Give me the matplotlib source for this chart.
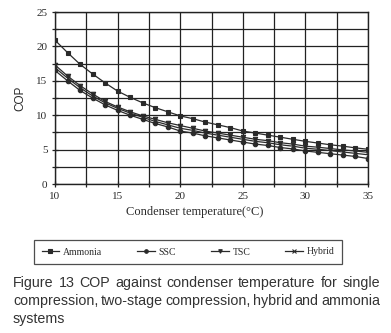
import matplotlib
matplotlib.use('Agg')
import matplotlib.pyplot as plt
import numpy as np

# Данные
temp = list(range(10, 36))
ammonia = [20.9, 19.1, 17.4, 16.0, 14.7, 13.5, 12.6, 11.8, 11.1, 10.5, 9.9, 9.5, 9.0,
           8.6, 8.2, 7.7, 7.4, 7.1, 6.8, 6.5, 6.2, 5.95, 5.7, 5.5, 5.25, 5.05]
ssc = [16.5, 15.0, 13.6, 12.5, 11.5, 10.7, 10.0, 9.4, 8.8, 8.3, 7.7, 7.4, 7.0,
       6.7, 6.4, 6.1, 5.8, 5.6, 5.3, 5.1, 4.8, 4.6, 4.4, 4.2, 4.0, 3.7]
tsc = [17.3, 15.7, 14.3, 13.1, 12.0, 11.2, 10.5, 9.9, 9.4, 8.9, 8.5, 8.1, 7.7,
       7.4, 7.1, 6.8, 6.5, 6.3, 6.0, 5.8, 5.5, 5.35, 5.15, 4.95, 4.8, 4.6]
hybrid = [16.9, 15.4, 14.0, 12.8, 11.8, 11.0, 10.3, 9.7, 9.1, 8.6, 8.1, 7.8, 7.4,
          7.1, 6.8, 6.5, 6.2, 6.0, 5.7, 5.5, 5.2, 5.05, 4.85, 4.65, 4.45, 4.25]
labels = ['Ammonia', 'SSC', 'TSC', 'Hybrid']
markers = ['s', 'o', 'v', 'x']

caption = ["Figure 13 COP against condenser temperature for single",
           "compression, two-stage compression, hybrid and ammonia",
           "systems"]

serif = 'Liberation Serif'
sans = 'Liberation Sans'
ink = '#2a2a2a'

fig = plt.figure(figsize=(3.91, 3.33), dpi=100)
ax = fig.add_axes([55 / 391, 1 - 184 / 333, 313 / 391, 172 / 333])

handles = []
for ys, lab, mk in zip([ammonia, ssc, tsc, hybrid], labels, markers):
    h, = ax.plot(temp, ys, color=ink, lw=0.9, marker=mk, ms=3.2,
                 mew=0.8, label=lab, zorder=3)
    handles.append(h)

ax.set_xlim(10, 35)
ax.set_ylim(0, 25)
ax.set_xticks(np.arange(10, 36, 5))
ax.set_yticks(np.arange(0, 26, 5))
ax.set_xticks(np.arange(10, 36, 2.5), minor=True)
ax.set_yticks(np.arange(0, 26, 2.5), minor=True)
ax.grid(True, which='both', color='#222222', lw=0.9)
for s in ax.spines.values():
    s.set_color('#222222')
    s.set_linewidth(1.0)
ax.tick_params(which='both', direction='inout', length=4, color='#222222', width=0.9)
ax.tick_params(axis='both', labelsize=8, labelcolor=ink)
ax.tick_params(axis='x', pad=4)
for t in ax.get_xticklabels() + ax.get_yticklabels():
    t.set_family(serif)

ax.set_xlabel('Condenser temperature(°C)', family=serif, fontsize=9, color=ink)
ax.xaxis.set_label_coords((195 - 55) / 313, -0.125)
ax.set_ylabel('COP', family=sans, fontsize=8.5, color=ink)
ax.yaxis.set_label_coords(-0.09, 0.5)

leg = fig.legend(handles=handles, loc='center', ncol=4,
                 bbox_to_anchor=(188 / 391, 1 - 252 / 333),
                 prop={'family': serif, 'size': 7}, frameon=True,
                 fancybox=False, edgecolor='#222222', handlelength=1.8,
                 handletextpad=0.4, columnspacing=3.6, borderpad=0.8,
                 markerscale=0.8)
leg.get_frame().set_linewidth(0.9)
for t in leg.get_texts():
    t.set_color(ink)

# Подпись с выравниванием по ширине
fig.canvas.draw()
renderer = fig.canvas.get_renderer()
x0, x1 = 13, 380
cap_size = 10.3
for i, line in enumerate(caption):
    y = 1 - (283 + 18 * i) / 333
    words = line.split()
    if i == len(caption) - 1:
        fig.text(x0 / 391, y, line, family=sans, fontsize=cap_size, color='#333333',
                 va='center', ha='left')
        continue
    objs = [fig.text(0, y, w, family=sans, fontsize=cap_size, color='#333333',
                     va='center', ha='left') for w in words]
    widths = [o.get_window_extent(renderer).width for o in objs]
    gap = (x1 - x0 - sum(widths)) / (len(words) - 1)
    x = x0
    for o, w in zip(objs, widths):
        o.set_x(x / 391)
        x += w + gap

plt.savefig('out.png', dpi=100, facecolor='white')
